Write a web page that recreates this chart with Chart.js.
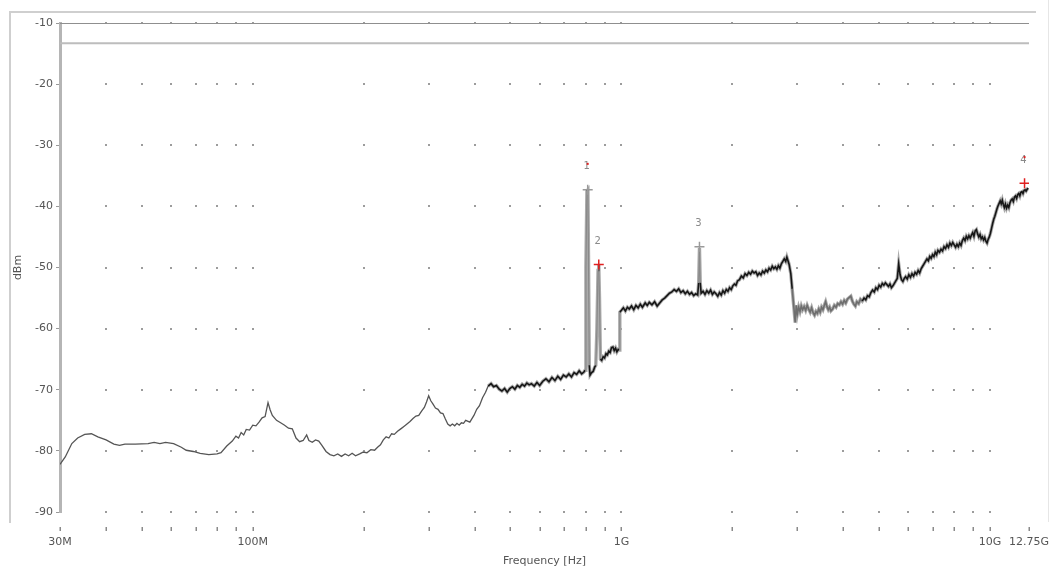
<!DOCTYPE html>
<html>
<head>
<meta charset="utf-8">
<script src="https://cdn.jsdelivr.net/npm/chart.js@4.4.1/dist/chart.umd.min.js"></script>
<style>
  html, body { margin: 0; padding: 0; background: #fff; }
  #wrap { width: 1052px; height: 570px; }
</style>
</head>
<body>
<div id="wrap"><canvas id="spectrum" width="1052" height="570"></canvas></div>
<script>
// frequency axis (MHz) and level axis (dBm)
const xTickValues = [30, 40, 50, 60, 70, 80, 90, 100, 200, 300, 400, 500, 600, 700, 800, 900,
    1000, 2000, 3000, 4000, 5000, 6000, 7000, 8000, 9000, 10000, 12750];
const xTickLabels = { 30: '30M', 100: '100M', 1000: '1G', 10000: '10G', 12750: '12.75G' };
const yTickValues = [-10, -20, -30, -40, -50, -60, -70, -80, -90];

// limit lines
const limitLevels = [-10, -13.3];

const lowFreq = [30, 31, 32.3, 33.5, 35, 36.5, 38, 40, 42, 43.5,
    45, 48, 52, 54, 56, 58, 61, 64, 66, 69,
    72, 76, 80, 82, 85, 88, 90, 91.5, 93, 94.5,
    96, 98, 100, 102, 104, 106, 108, 110, 111.5, 113];
const lowLevel = [-82.2, -81.0, -78.8, -77.9, -77.3, -77.2, -77.7, -78.2, -78.9, -79.1,
    -78.9, -78.9, -78.8, -78.6, -78.8, -78.6, -78.8, -79.4, -79.9, -80.1,
    -80.4, -80.6, -80.5, -80.3, -79.2, -78.4, -77.6, -77.9, -77.0, -77.4,
    -76.5, -76.6, -75.8, -75.9, -75.3, -74.6, -74.4, -72.1, -73.3, -74.2];

const vhfFreq = [116, 119, 122, 125, 128, 131, 134, 137, 140, 142,
    145, 148, 151, 154, 158, 162, 166, 170, 174, 178,
    182, 186, 190, 195, 199, 204, 209, 214, 218, 222,
    226, 230, 234, 238, 242, 247, 252, 257, 262, 267,
    272, 277, 282, 287, 292, 296, 300, 304, 308, 313];
const vhfLevel = [-75.0, -75.4, -75.8, -76.3, -76.4, -77.9, -78.5, -78.3, -77.4, -78.3,
    -78.6, -78.2, -78.4, -79.1, -80.1, -80.6, -80.8, -80.5, -80.9, -80.5,
    -80.8, -80.4, -80.8, -80.5, -80.2, -80.3, -79.8, -79.9, -79.4, -79.0,
    -78.2, -77.7, -77.9, -77.2, -77.3, -76.8, -76.4, -76.0, -75.6, -75.2,
    -74.7, -74.3, -74.2, -73.5, -72.9, -72.0, -71.0, -71.8, -72.3, -73.0];

const uhfFreq = [318, 323, 328, 333, 338, 343, 348, 353, 358, 363,
    368, 373, 378, 388, 398, 405, 412, 420, 428, 435,
    443, 450, 458, 466, 474, 482, 490, 498, 506, 514,
    522, 530, 538, 546, 554, 562, 570, 580, 590, 600,
    612, 624, 636, 648, 660, 672, 684, 696, 708, 720,
    732, 744, 756, 768, 780, 791];
const uhfLevel = [-73.2, -73.8, -73.9, -74.8, -75.6, -75.9, -75.6, -75.9, -75.5, -75.8,
    -75.4, -75.5, -75.0, -75.3, -74.2, -73.2, -72.6, -71.3, -70.4, -69.4,
    -69.0, -69.5, -69.3, -69.9, -70.2, -69.8, -70.4, -69.8, -69.5, -69.9,
    -69.3, -69.6, -69.1, -69.4, -68.9, -69.2, -69.0, -69.4, -68.8, -69.3,
    -68.6, -68.2, -68.7, -68.0, -68.5, -67.8, -68.3, -67.6, -67.9, -67.4,
    -67.9, -67.2, -67.5, -66.9, -67.4, -67.1];

const spikeFreq = [797, 801, 806, 811, 814, 818, 822, 830, 838, 846,
    852, 858, 864, 868, 872, 877, 884, 892, 900, 908,
    916, 924, 932, 940, 948, 956, 964, 972, 980, 986];
const spikeLevel = [-66.8, -50.0, -37.5, -37.3, -48.0, -66.0, -67.6, -67.2, -67.0, -66.3,
    -66.0, -60.0, -50.5, -49.6, -55.0, -65.0, -65.2, -64.6, -64.8, -64.1,
    -64.3, -63.7, -63.9, -63.1, -63.0, -63.6, -63.2, -63.8, -63.4, -63.5];

const gigFreq = [990, 1000, 1012, 1025, 1038, 1050, 1065, 1080, 1095, 1110,
    1125, 1140, 1160, 1175, 1190, 1210, 1230, 1250, 1270, 1290,
    1310, 1330, 1350, 1370, 1390, 1410, 1430, 1450, 1470, 1490,
    1510, 1530, 1550, 1570, 1590, 1610, 1620, 1628, 1636, 1645,
    1665, 1685, 1705, 1725, 1745, 1765, 1785, 1805, 1825, 1845,
    1865, 1885, 1905, 1925, 1945, 1965, 1985, 2005, 2025, 2045,
    2065, 2090, 2115, 2140, 2165, 2190, 2215, 2240, 2265, 2290,
    2315, 2340, 2365, 2390, 2415, 2440, 2465, 2490, 2515, 2540,
    2565, 2590, 2615, 2640, 2665, 2690, 2715, 2740, 2765, 2790,
    2810, 2830, 2850, 2880, 2905, 2930, 2960, 2980];
const gigLevel = [-57.3, -57.0, -56.6, -57.1, -56.5, -56.8, -56.3, -56.9, -56.2, -56.6,
    -56.0, -56.5, -55.8, -56.2, -55.7, -56.1, -55.6, -56.3, -55.8, -55.3,
    -55.0, -54.6, -54.2, -54.0, -53.6, -53.9, -53.5, -54.1, -53.8, -54.3,
    -53.9, -54.4, -54.1, -54.6, -54.3, -54.5, -52.5, -46.8, -52.5, -54.2,
    -53.9, -54.4, -53.8, -54.2, -53.7, -54.4, -54.0, -54.3, -54.7, -54.1,
    -54.5, -53.8, -54.2, -53.6, -53.9, -53.3, -53.6, -53.0, -52.7, -52.9,
    -52.2, -52.0, -51.4, -51.7, -51.0, -51.3, -50.8, -51.1, -50.6, -50.9,
    -50.7, -51.3, -50.9, -51.2, -50.6, -50.9, -50.4, -50.7, -50.1, -50.4,
    -49.8, -50.2, -49.9, -50.3, -49.7, -50.1, -49.4, -49.0, -48.6, -49.0,
    -48.3, -48.9, -49.5, -51.0, -53.5, -56.0, -59.0, -56.2];

const highFreq = [3000, 3025, 3050, 3075, 3100, 3130, 3160, 3190, 3220, 3250,
    3280, 3310, 3340, 3370, 3400, 3430, 3460, 3490, 3520, 3550,
    3580, 3610, 3640, 3670, 3700, 3740, 3780, 3820, 3860, 3900,
    3940, 3980, 4020, 4060, 4100, 4150, 4190, 4230, 4270, 4310,
    4350, 4400, 4450, 4500, 4550, 4600, 4650, 4700, 4750, 4800,
    4850, 4900, 4950, 5000, 5050, 5100, 5150, 5200, 5250, 5300,
    5350, 5400, 5450, 5500, 5550, 5600, 5650, 5700, 5750, 5800,
    5850, 5900, 5960, 6020, 6080, 6140, 6200, 6260, 6320, 6380,
    6440, 6500, 6560, 6620, 6680, 6740, 6800, 6860, 6920, 6980,
    7040, 7100, 7160, 7220, 7290, 7360, 7430, 7500, 7570, 7640,
    7710, 7780, 7850, 7920, 7990, 8060, 8130, 8200, 8270, 8340,
    8410, 8480, 8550, 8620, 8690, 8760, 8830, 8900, 8970, 9040,
    9110, 9180, 9250, 9320, 9390, 9460, 9530, 9600, 9670, 9740,
    9810, 9880, 9950, 10020, 10090, 10160, 10230, 10300, 10370, 10440,
    10510, 10580, 10650, 10720, 10790, 10860, 10930, 11000, 11080, 11160,
    11240, 11320, 11400, 11480, 11560, 11640, 11720, 11800, 11880, 11960,
    12040, 12120, 12200, 12280, 12360, 12440, 12520, 12600, 12680];
const highLevel = [-57.6, -56.5, -57.2, -56.3, -56.9, -56.4, -57.0, -56.2, -56.8, -57.3,
    -56.6, -57.4, -57.8, -57.2, -57.5, -56.8, -57.3, -56.5, -56.9, -56.2,
    -55.6, -56.4, -56.9, -56.5, -57.1, -56.8, -56.2, -56.5, -55.9, -56.1,
    -55.6, -56.0, -55.4, -55.8, -55.2, -54.9, -54.7, -55.5, -56.0, -56.3,
    -55.6, -55.9, -55.2, -55.5, -55.0, -55.3, -54.6, -54.8, -54.1, -53.7,
    -54.0, -53.3, -53.6, -52.9, -53.2, -52.6, -52.9, -52.5, -52.8, -53.1,
    -52.7, -53.3, -53.0, -52.6, -52.2, -51.8, -49.4, -51.2, -52.0, -52.3,
    -51.8, -51.5, -51.9, -51.2, -51.6, -51.0, -51.4, -50.8, -51.1, -50.5,
    -50.9, -50.2, -49.8, -49.4, -49.0, -48.6, -48.9, -48.2, -48.5, -47.9,
    -48.2, -47.5, -47.9, -47.2, -47.5, -47.0, -47.3, -46.6, -46.9, -46.3,
    -46.7, -46.0, -46.4, -45.9, -46.3, -46.7, -46.2, -46.6, -46.0, -46.4,
    -45.6, -45.2, -45.6, -44.9, -45.3, -44.8, -45.2, -44.7, -44.3, -44.9,
    -44.0, -43.8, -44.5, -45.0, -44.6, -45.3, -45.0, -45.5, -45.1, -45.7,
    -46.0, -45.4, -45.0, -44.4, -43.6, -42.8, -42.1, -41.6, -41.0, -40.4,
    -39.9, -39.5, -39.1, -39.6, -39.0, -39.7, -40.2, -39.6, -40.3, -39.8,
    -40.2, -39.4, -39.0, -38.8, -39.2, -38.5, -38.3, -38.7, -38.1, -37.9,
    -38.3, -37.7, -37.6, -37.9, -37.4, -37.3, -37.5, -37.2, -37.0];

// peak markers
const markerNames = ['1', '2', '3', '4'];
const markerFreq = [810, 868, 1628, 12400];
const markerLevel = [-37.3, -49.5, -46.6, -36.2];

// marker looks
const markerColors = ['#9a9a9a', '#e02020', '#9a9a9a', '#e02020'];
const markerRedDot = [true, false, false, true];

const traceFreq = [].concat(lowFreq, vhfFreq, uhfFreq, spikeFreq, gigFreq, highFreq);
const traceLevel = [].concat(lowLevel, vhfLevel, uhfLevel, spikeLevel, gigLevel, highLevel);
const tracePoints = traceFreq.map((f, i) => ({ x: f, y: traceLevel[i] }));

const FONT = 'DejaVu Sans';

function isJump(ctx) {
    return Math.abs(ctx.p1.parsed.y - ctx.p0.parsed.y) > 4.5;
}

// outer frame around the plot, like the analyzer window
const framePlugin = {
    id: 'frame',
    beforeDraw(chart) {
        const c = chart.ctx;
        c.save();
        c.fillStyle = '#fff';
        c.fillRect(0, 0, chart.width, chart.height);
        c.strokeStyle = '#cfcfcf';
        c.lineWidth = 2;
        c.beginPath();
        c.moveTo(10, 523);
        c.lineTo(10, 12);
        c.lineTo(1036, 12);
        c.stroke();
        c.strokeStyle = '#e6e6e6';
        c.lineWidth = 1;
        c.beginPath();
        c.moveTo(1048.5, 0);
        c.lineTo(1048.5, 522);
        c.stroke();
        c.restore();
    }
};

// dotted grid: small marks only where grid lines would cross
const gridDotPlugin = {
    id: 'gridDots',
    beforeDatasetsDraw(chart) {
        const c = chart.ctx;
        const xs = chart.scales.x;
        const ys = chart.scales.y;
        c.save();
        c.fillStyle = '#9c9c9c';
        xTickValues.forEach(v => {
            if (v === 30 || v === 12750) return;
            const px = Math.round(xs.getPixelForValue(v));
            yTickValues.forEach(l => {
                const py = Math.round(ys.getPixelForValue(l));
                c.fillRect(px - 1, py - 1, 2, 2);
            });
        });
        // tick row under the plot
        c.fillStyle = '#8a8a8a';
        xTickValues.forEach(v => {
            const px = Math.round(xs.getPixelForValue(v));
            c.fillRect(px - 0.5, chart.chartArea.bottom + 15, 1.5, 4);
        });
        c.restore();
    }
};

// numbers above the peak markers
const markerLabelPlugin = {
    id: 'markerLabels',
    afterDatasetsDraw(chart) {
        const meta = chart.getDatasetMeta(0);
        const c = chart.ctx;
        c.save();
        c.font = '10px ' + FONT;
        c.textAlign = 'center';
        c.textBaseline = 'middle';
        meta.data.forEach((pt, i) => {
            c.fillStyle = '#8a8a8a';
            c.fillText(markerNames[i], pt.x - 1, pt.y - 23);
            if (markerRedDot[i]) {
                c.fillStyle = '#e02020';
                c.fillRect(pt.x - 1, pt.y - 27, 2, 2);
            }
        });
        c.restore();
    }
};

const ctx = document.getElementById('spectrum').getContext('2d');
new Chart(ctx, {
    type: 'scatter',
    data: {
        datasets: [
            {
                label: 'Markers',
                data: markerFreq.map((f, i) => ({ x: f, y: markerLevel[i] })),
                pointStyle: 'cross',
                pointRadius: 5,
                pointBorderWidth: 1.5,
                pointBorderColor: markerColors,
                order: 0
            },
            {
                label: 'Trace',
                data: tracePoints,
                showLine: true,
                pointRadius: 0,
                borderWidth: 1.3,
                borderColor: '#555',
                segment: {
                    borderColor: c => {
                        if (isJump(c)) return '#8a8a8a';
                        const f = c.p0.parsed.x;
                        if (f < 430) return '#555';
                        if (f >= 2900 && f < 4500) return '#6e6e6e';
                        return '#161616';
                    },
                    borderWidth: c => {
                        if (isJump(c)) return 1.2;
                        return c.p0.parsed.x < 430 ? 1.3 : 1.6;
                    }
                },
                order: 1
            },
            {
                label: 'Trace halo',
                data: tracePoints,
                showLine: true,
                pointRadius: 0,
                borderWidth: 3.4,
                borderColor: '#aaa',
                segment: {
                    borderColor: c => c.p0.parsed.x < 430 ? 'rgba(0,0,0,0)' : '#ababab'
                },
                order: 2
            },
            {
                label: 'Limit',
                data: [{ x: 30, y: limitLevels[0] }, { x: 12750, y: limitLevels[0] }],
                showLine: true,
                pointRadius: 0,
                borderWidth: 2,
                borderColor: '#8f8f8f',
                order: 3
            },
            {
                label: 'Limit 2',
                data: [{ x: 30, y: limitLevels[1] }, { x: 12750, y: limitLevels[1] }],
                showLine: true,
                pointRadius: 0,
                borderWidth: 2,
                borderColor: '#bdbdbd',
                order: 4
            }
        ]
    },
    options: {
        responsive: false,
        animation: false,
        devicePixelRatio: 1,
        layout: { padding: { top: 23, right: 23, left: 0, bottom: 0 } },
        plugins: {
            legend: { display: false },
            tooltip: { enabled: false }
        },
        scales: {
            x: {
                type: 'logarithmic',
                min: 30,
                max: 12750,
                afterBuildTicks: scale => {
                    scale.ticks = xTickValues.map(v => ({ value: v }));
                },
                afterFit: scale => {
                    scale.height = 58;
                    scale.paddingLeft = 0;
                    scale.paddingRight = 0;
                },
                border: { display: false },
                grid: { drawOnChartArea: false, drawTicks: false },
                ticks: {
                    autoSkip: false,
                    maxRotation: 0,
                    padding: 24,
                    color: '#555',
                    font: { family: FONT, size: 11 },
                    callback: v => xTickLabels[v] || ''
                },
                title: {
                    display: true,
                    text: 'Frequency [Hz]',
                    color: '#555',
                    font: { family: FONT, size: 11 },
                    padding: { top: 0, bottom: 2 }
                }
            },
            y: {
                min: -90,
                max: -10,
                afterFit: scale => {
                    scale.width = 60;
                    scale.paddingTop = 0;
                    scale.paddingBottom = 0;
                },
                afterBuildTicks: scale => {
                    scale.ticks = yTickValues.map(v => ({ value: v }));
                },
                border: { display: true, color: '#b5b5b5', width: 3 },
                grid: { drawOnChartArea: false, drawTicks: true, tickLength: 4, tickColor: '#999' },
                ticks: {
                    padding: 3,
                    color: '#555',
                    font: { family: FONT, size: 11 }
                },
                title: {
                    display: true,
                    text: 'dBm',
                    color: '#555',
                    font: { family: FONT, size: 11 },
                    padding: { top: 12, bottom: 0 }
                }
            }
        }
    },
    plugins: [framePlugin, gridDotPlugin, markerLabelPlugin]
});
</script>
</body>
</html>
